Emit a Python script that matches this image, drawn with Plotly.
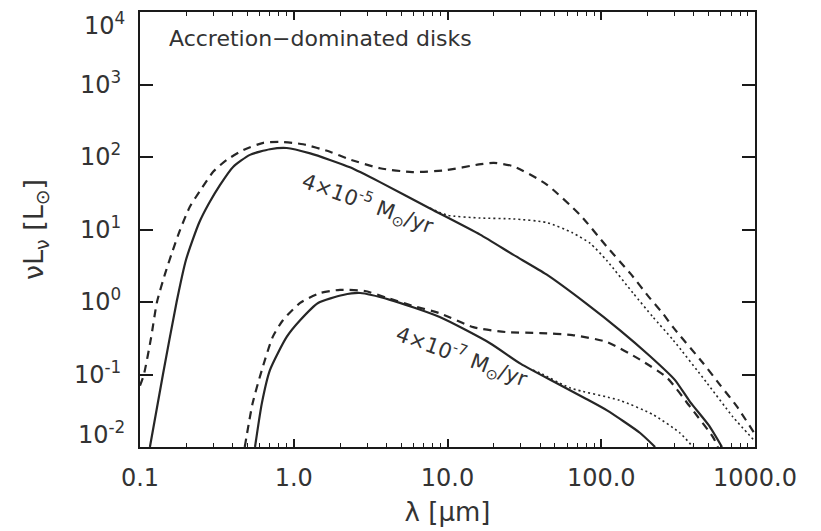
import plotly.graph_objects as go

# ---------------- data ----------------
# 4e-5 Msun/yr model
hi_solid_x = [0.116, 0.141, 0.173, 0.199, 0.242, 0.281, 0.331, 0.403, 0.519, 0.70, 0.90, 1.28, 1.72,
              2.32, 3.64, 7.7, 16.3, 26.7, 44, 80, 132, 207, 300, 378, 500, 610]
hi_solid_y = [0.01, 0.1, 1.0, 3.8, 12.3, 23, 41, 73, 107, 128, 133, 112, 91,
              72, 45, 19.5, 8.5, 4.5, 2.4, 0.95, 0.41, 0.18, 0.085, 0.042, 0.020, 0.01]

hi_dash_x = [0.1, 0.106, 0.118, 0.129, 0.146, 0.161, 0.182, 0.211, 0.252, 0.30, 0.366, 0.47, 0.634, 0.81,
             1.15, 1.72, 2.3, 3.64, 5.9, 9.9, 16, 20, 27, 44, 73, 109, 154, 207, 251, 293, 459, 592, 764, 1000]
hi_dash_y = [0.07, 0.1, 0.32, 1.0, 2.5, 4.7, 9.8, 20.6, 37, 63, 91, 125, 157, 162,
             150, 118, 93, 70, 62, 66, 79, 83, 74, 42, 15.8, 5.75, 2.5, 1.13, 0.70, 0.45, 0.144, 0.072, 0.036, 0.015]

hi_dot_x = [7.7, 9.9, 16.3, 26.7, 44, 65, 85, 109, 161, 217, 293, 488, 719, 1000]
hi_dot_y = [19.8, 15.8, 14.4, 14.0, 12.5, 9.0, 6.4, 3.7, 1.33, 0.62, 0.30, 0.076, 0.026, 0.012]

# 4e-7 Msun/yr model
lo_solid_x = [0.56, 0.62, 0.70, 0.90, 1.10, 1.44, 2.09, 2.7, 4.23, 8.9, 18.9, 30, 50, 80, 109, 179, 224]
lo_solid_y = [0.01, 0.040, 0.115, 0.33, 0.56, 0.97, 1.25, 1.33, 1.07, 0.62, 0.27, 0.14, 0.078, 0.046, 0.032, 0.0156, 0.01]

lo_dash_x = [0.48, 0.54, 0.62, 0.73, 0.85, 1.10, 1.48, 2.0, 2.9, 4.0, 6.0, 8.9, 14.7, 24, 40, 65, 109, 179, 268, 378, 533, 574]
lo_dash_y = [0.01, 0.040, 0.115, 0.33, 0.56, 0.97, 1.33, 1.47, 1.42, 1.15, 0.88, 0.70, 0.45, 0.385, 0.373, 0.35, 0.28, 0.16, 0.09, 0.036, 0.0137, 0.01]

lo_dot_x = [36, 40, 63, 132, 217, 325, 395]
lo_dot_y = [0.115, 0.105, 0.065, 0.044, 0.028, 0.0156, 0.01]

x_tickvals = [0.1, 1, 10, 100, 1000]
x_ticktext = ["0.1", "1.0", "10.0", "100.0", "1000.0"]
y_tickvals = [1e-2, 1e-1, 1, 10, 100, 1000, 1e4]
# the two end labels (10^-2, 10^4) are drawn separately, nudged inside as in the reference
y_ticktext = ["", "10<sup>-1</sup>", "10<sup>0</sup>", "10<sup>1</sup>",
              "10<sup>2</sup>", "10<sup>3</sup>", ""]
y_top_label = "10<sup>4</sup>"
y_bottom_label = "10<sup>-2</sup>"
x_minor = [m * 10 ** e for e in range(-1, 3) for m in range(2, 10)]

title_text = "Accretion\u2212dominated disks"
label_hi = "4\u00d710<sup>-5</sup> M<sub>\u2299</sub>/yr"
label_lo = "4\u00d710<sup>-7</sup> M<sub>\u2299</sub>/yr"

# ---------------- figure ----------------
LC = "#262626"
TC = "#333333"
FONT = "DejaVu Sans"
fig = go.Figure()

def add(x, y, dash, width):
    fig.add_trace(go.Scatter(x=x, y=y, mode="lines",
                             line=dict(color=LC, width=width, dash=dash,
                                       shape="spline", smoothing=0.6),
                             showlegend=False, hoverinfo="skip"))

add(hi_solid_x, hi_solid_y, "solid", 2.2)
add(hi_dash_x, hi_dash_y, "8px,6px", 2.2)
add(hi_dot_x, hi_dot_y, "2px,3px", 1.6)
add(lo_solid_x, lo_solid_y, "solid", 2.2)
add(lo_dash_x, lo_dash_y, "8px,6px", 2.2)
add(lo_dot_x, lo_dot_y, "2px,3px", 1.6)

axis_common = dict(showline=True, linecolor="#1a1a1a", linewidth=2, mirror="ticks",
                   ticks="inside", tickcolor="#1a1a1a", tickwidth=1.6,
                   showgrid=False, zeroline=False, automargin=False,
                   tickfont=dict(family=FONT, size=24, color=TC))

fig.update_xaxes(type="log", range=[-1, 3], tickmode="array",
                 tickvals=x_tickvals, ticktext=x_ticktext, ticklen=8,
                 ticklabelstandoff=8,
                 minor=dict(tickmode="array", tickvals=x_minor, ticks="inside",
                            ticklen=4, tickcolor="#1a1a1a", tickwidth=1.4),
                 title=dict(text="\u03bb [\u03bcm]", standoff=12,
                            font=dict(family=FONT, size=26, color=TC)),
                 **axis_common)
fig.update_yaxes(type="log", range=[-2, 4], tickmode="array",
                 tickvals=y_tickvals, ticktext=y_ticktext, ticklen=13,
                 ticklabelstandoff=12,
                 title=dict(text="\u03bdL<sub>\u03bd</sub> [L<sub>\u2299</sub>]", standoff=22,
                            font=dict(family=FONT, size=27, color=TC)),
                 **axis_common)

fig.add_annotation(text=y_top_label, xref="paper", yref="paper",
                   x=-0.021, y=(447 - 24) / 435, xanchor="right", yanchor="middle",
                   showarrow=False, font=dict(family=FONT, size=24, color=TC))
fig.add_annotation(text=y_bottom_label, xref="paper", yref="paper",
                   x=-0.021, y=(447 - 433) / 435, xanchor="right", yanchor="middle",
                   showarrow=False, font=dict(family=FONT, size=24, color=TC))
fig.add_annotation(text=title_text, xref="paper", yref="paper",
                   x=0.044, y=0.938, xanchor="left", yanchor="middle",
                   showarrow=False, font=dict(family=FONT, size=22, color=TC))
fig.add_annotation(text=label_hi, xref="paper", yref="paper",
                   x=(368 - 140) / 615, y=(447 - 203) / 435,
                   xanchor="center", yanchor="middle", textangle=20,
                   showarrow=False, font=dict(family=FONT, size=21, color=TC))
fig.add_annotation(text=label_lo, xref="paper", yref="paper",
                   x=(462 - 140) / 615, y=(447 - 356) / 435,
                   xanchor="center", yanchor="middle", textangle=20,
                   showarrow=False, font=dict(family=FONT, size=21, color=TC))

fig.update_layout(width=821, height=531,
                  margin=dict(l=140, r=66, t=12, b=84),
                  paper_bgcolor="white", plot_bgcolor="white")

fig.write_html("out.html")
